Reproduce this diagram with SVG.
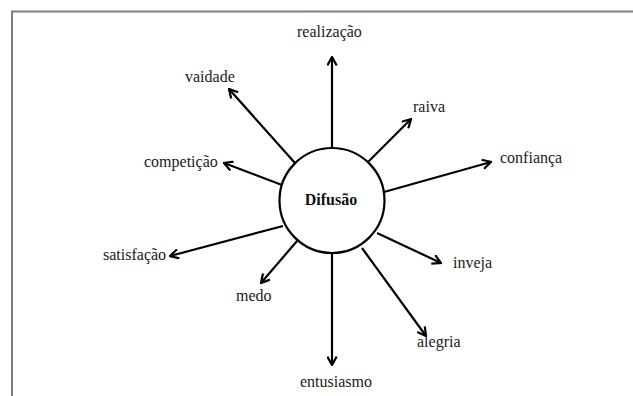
<svg xmlns="http://www.w3.org/2000/svg" width="633" height="396" viewBox="0 0 633 396">
<style>
.lbl{font-family:"Liberation Serif","Times New Roman",serif;font-size:16px;fill:#1a1a1a}
.ttl{font-family:"Liberation Serif","Times New Roman",serif;font-size:16px;font-weight:bold;fill:#111}
.edge{stroke:#000;stroke-width:2.2;fill:none;marker-end:url(#arr)}
</style>
<defs>
<marker id="arr" viewBox="0 0 11 11" markerWidth="11" markerHeight="11" refX="10" refY="5.5" orient="auto" markerUnits="userSpaceOnUse">
<path d="M1.5,0.8 L10,5.5 L1.5,10.2" fill="none" stroke="#000" stroke-width="2.2"/>
</marker>
</defs>
<rect width="633" height="396" fill="#fff"/>
<path d="M12,396 L12,11.5 L633,11.5" fill="none" stroke="#7f7f7f" stroke-width="2"/>
<g id="connectors">
<line class="edge" x1="332" y1="148" x2="332" y2="57"/>
<line class="edge" x1="295" y1="163" x2="229" y2="89"/>
<line class="edge" x1="368" y1="162" x2="411" y2="119"/>
<line class="edge" x1="384" y1="192" x2="491" y2="162"/>
<line class="edge" x1="282" y1="185" x2="224" y2="163"/>
<line class="edge" x1="283" y1="226" x2="170" y2="256"/>
<line class="edge" x1="297" y1="241" x2="261" y2="283"/>
<line class="edge" x1="332" y1="253" x2="332" y2="365"/>
<line class="edge" x1="362" y1="248" x2="426" y2="336"/>
<line class="edge" x1="377" y1="233" x2="441" y2="263"/>
</g>
<g id="difusao">
<circle cx="332" cy="200.5" r="52.5" fill="#fff" stroke="#000" stroke-width="2.2"/>
<text class="ttl" x="331" y="205" text-anchor="middle">Difusão</text>
</g>
<g id="realizacao"><text class="lbl" x="297" y="37">realização</text></g>
<g id="vaidade"><text class="lbl" x="185" y="82">vaidade</text></g>
<g id="raiva"><text class="lbl" x="413" y="112">raiva</text></g>
<g id="confianca"><text class="lbl" x="500" y="163">confiança</text></g>
<g id="competicao"><text class="lbl" x="144" y="167">competição</text></g>
<g id="satisfacao"><text class="lbl" x="103" y="260">satisfação</text></g>
<g id="medo"><text class="lbl" x="236" y="301">medo</text></g>
<g id="entusiasmo"><text class="lbl" x="300" y="387">entusiasmo</text></g>
<g id="alegria"><text class="lbl" x="417" y="347">alegria</text></g>
<g id="inveja"><text class="lbl" x="453" y="268">inveja</text></g>
</svg>
